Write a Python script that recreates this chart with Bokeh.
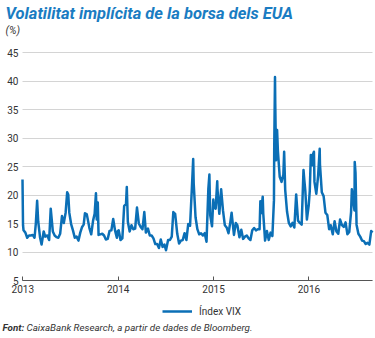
import pandas as pd
from bokeh.plotting import figure
from bokeh.models import (ColumnDataSource, Range1d, FixedTicker, DatetimeTickFormatter,
                          Legend, LegendItem, Label)
from bokeh.embed import file_html
from bokeh.resources import INLINE

# ---------------- data ----------------
dates = [
    "2012-12-31", "2013-01-02", "2013-01-04", "2013-01-11", "2013-01-18", "2013-01-25", "2013-02-01",
    "2013-02-08", "2013-02-15", "2013-02-20", "2013-02-25", "2013-03-01", "2013-03-08", "2013-03-14",
    "2013-03-22", "2013-03-28", "2013-04-05", "2013-04-12", "2013-04-18", "2013-04-26", "2013-05-03",
    "2013-05-10", "2013-05-17", "2013-05-24", "2013-05-31", "2013-06-07", "2013-06-14", "2013-06-20",
    "2013-06-24", "2013-06-28", "2013-07-05", "2013-07-12", "2013-07-19", "2013-07-26", "2013-08-02",
    "2013-08-09", "2013-08-16", "2013-08-22", "2013-08-27", "2013-09-03", "2013-09-06", "2013-09-13",
    "2013-09-20", "2013-09-27", "2013-10-03", "2013-10-08", "2013-10-11", "2013-10-15", "2013-10-18",
    "2013-10-25", "2013-11-01", "2013-11-08", "2013-11-15", "2013-11-22", "2013-11-29", "2013-12-06",
    "2013-12-13", "2013-12-20", "2013-12-27", "2013-12-31",
    "2014-01-03", "2014-01-10", "2014-01-17", "2014-01-24", "2014-01-31", "2014-02-03", "2014-02-07",
    "2014-02-14", "2014-02-21", "2014-02-28", "2014-03-07", "2014-03-14", "2014-03-21", "2014-03-28",
    "2014-04-04", "2014-04-11", "2014-04-17", "2014-04-25", "2014-05-02", "2014-05-09", "2014-05-16",
    "2014-05-23", "2014-05-30", "2014-06-06", "2014-06-13", "2014-06-20", "2014-06-27", "2014-07-03",
    "2014-07-11", "2014-07-18", "2014-07-25", "2014-07-31", "2014-08-07", "2014-08-15", "2014-08-22",
    "2014-08-29", "2014-09-05", "2014-09-12", "2014-09-19", "2014-09-26", "2014-10-03", "2014-10-10",
    "2014-10-15", "2014-10-17", "2014-10-24", "2014-10-31", "2014-11-07", "2014-11-14", "2014-11-21",
    "2014-11-28", "2014-12-05", "2014-12-12", "2014-12-16", "2014-12-19", "2014-12-26", "2014-12-31",
    "2015-01-02", "2015-01-09", "2015-01-15", "2015-01-16", "2015-01-23", "2015-01-30", "2015-02-06",
    "2015-02-13", "2015-02-20", "2015-02-27", "2015-03-06", "2015-03-11", "2015-03-13", "2015-03-20",
    "2015-03-27", "2015-04-02", "2015-04-10", "2015-04-17", "2015-04-24", "2015-05-01", "2015-05-08",
    "2015-05-15", "2015-05-22", "2015-05-29", "2015-06-05", "2015-06-12", "2015-06-19", "2015-06-26",
    "2015-06-29", "2015-07-02", "2015-07-08", "2015-07-10", "2015-07-17", "2015-07-24", "2015-07-31",
    "2015-08-07", "2015-08-14", "2015-08-20", "2015-08-21", "2015-08-24", "2015-08-25", "2015-08-28",
    "2015-09-01", "2015-09-04", "2015-09-11", "2015-09-18", "2015-09-25", "2015-09-28", "2015-10-02",
    "2015-10-09", "2015-10-16", "2015-10-23", "2015-10-30", "2015-11-06", "2015-11-13", "2015-11-20",
    "2015-11-27", "2015-12-04", "2015-12-11", "2015-12-14", "2015-12-18", "2015-12-24", "2015-12-31",
    "2016-01-04", "2016-01-08", "2016-01-13", "2016-01-15", "2016-01-20", "2016-01-22", "2016-01-29",
    "2016-02-05", "2016-02-11", "2016-02-12", "2016-02-19", "2016-02-26", "2016-03-04", "2016-03-11",
    "2016-03-18", "2016-03-24", "2016-04-01", "2016-04-08", "2016-04-15", "2016-04-22", "2016-04-29",
    "2016-05-06", "2016-05-13", "2016-05-20", "2016-05-27", "2016-06-03", "2016-06-10", "2016-06-13",
    "2016-06-17", "2016-06-23", "2016-06-24", "2016-06-27", "2016-07-01", "2016-07-08", "2016-07-15",
    "2016-07-22", "2016-07-29", "2016-08-05", "2016-08-12", "2016-08-19", "2016-08-26", "2016-08-31",
]
vix = [
    22.7, 14.7, 13.8, 13.4, 12.5, 12.9, 12.9,
    13.0, 12.5, 15.0, 19.0, 15.4, 12.6, 11.3,
    13.6, 12.7, 12.9, 12.1, 17.6, 13.6, 12.9,
    12.6, 12.5, 13.2, 16.3, 15.1, 16.9, 20.5,
    20.1, 16.9, 14.9, 13.8, 12.5, 12.7, 12.0,
    13.4, 14.4, 14.8, 16.8, 16.6, 15.9, 14.2,
    13.1, 15.5, 16.7, 20.3, 15.7, 18.7, 13.0,
    13.1, 13.2, 12.9, 12.2, 12.3, 13.7, 13.8,
    15.8, 13.8, 12.5, 13.7,
    13.8, 12.1, 12.4, 18.1, 18.4, 21.4, 15.3,
    13.6, 14.7, 14.0, 14.1, 17.8, 15.0, 14.4,
    14.0, 17.0, 13.4, 14.1, 12.9, 12.9, 12.4,
    11.4, 11.4, 10.7, 12.2, 10.9, 11.3, 10.3,
    12.1, 12.1, 12.7, 17.0, 16.7, 13.2, 11.5,
    12.0, 12.1, 13.3, 12.1, 14.9, 14.6, 21.2,
    26.3, 22.0, 16.1, 14.0, 13.1, 13.3, 12.9,
    13.3, 11.8, 21.1, 23.6, 16.5, 14.5, 19.2,
    17.8, 17.6, 22.4, 21.0, 16.7, 21.0, 17.3,
    14.7, 14.3, 13.3, 15.2, 16.9, 16.0, 13.0,
    15.1, 14.7, 12.6, 13.9, 12.3, 12.7, 12.9,
    12.4, 12.1, 13.8, 14.2, 13.8, 14.0, 14.0,
    18.9, 16.8, 19.7, 16.8, 12.0, 13.7, 12.1,
    13.4, 12.8, 19.1, 28.0, 40.7, 36.0, 26.1,
    31.4, 27.8, 23.2, 22.3, 23.6, 27.6, 20.9,
    17.1, 15.1, 14.5, 15.1, 14.3, 20.1, 15.5,
    15.1, 14.8, 24.4, 22.7, 20.7, 15.7, 18.2,
    20.7, 27.0, 25.2, 27.0, 27.6, 22.3, 20.2,
    23.4, 28.1, 25.4, 20.5, 19.8, 16.9, 16.5,
    14.0, 14.7, 13.1, 15.4, 13.6, 13.2, 15.7,
    14.7, 14.4, 15.2, 13.1, 13.5, 17.0, 21.0,
    19.4, 17.3, 25.8, 23.9, 14.8, 13.2, 12.7,
    12.0, 11.9, 11.4, 11.6, 11.3, 13.7, 13.4,
]
series_label = "Índex VIX"
year_ticks = ["2013-01-01", "2014-01-01", "2015-01-01", "2016-01-01"]
y_ticks = [5, 10, 15, 20, 25, 30, 35, 40, 45]
x_start, x_end = "2012-12-31", "2016-08-31"

title_text = "Volatilitat implícita de la borsa dels EUA"
unit_text = "(%)"
source_bold = "Font:"
source_text = "CaixaBank Research, a partir de dades de Bloomberg."

# ---------------- layout & styles ----------------
W, H = 375, 338
PLOT_L, PLOT_R = 22, 372      # pixel columns of x_start / x_end
TOP_PY = 52                   # pixel row of y = 45
AXIS_PY = 280                 # pixel row of the x axis (y = 5)
BLUE_LINE = "#0b6fb6"
BLUE_TITLE = "#1a7cc2"
TEXT = "#333333"
FONT = "Roboto"

# the frame spans the whole canvas; the axes are pinned at (x_start, 5)
xs_ms = pd.Timestamp(x_start).value / 1e6
xe_ms = pd.Timestamp(x_end).value / 1e6
ms_per_px = (xe_ms - xs_ms) / (PLOT_R - PLOT_L)
x_lo = xs_ms - PLOT_L * ms_per_px
x_hi = xe_ms + (W - PLOT_R) * ms_per_px
y_lo, y_hi = y_ticks[0], y_ticks[-1]
per_px = (y_hi - y_lo) / (AXIS_PY - TOP_PY)
y_bottom = y_lo - (H - AXIS_PY) * per_px
y_top = y_hi + TOP_PY * per_px


def sy(py):
    """screen y (from the frame bottom) for a pixel row counted from the top"""
    return H - py


src = ColumnDataSource(dict(date=pd.to_datetime(dates), vix=vix))
p = figure(width=W, height=H, x_axis_type="datetime", output_backend="svg",
           toolbar_location=None, title=None,
           x_range=Range1d(x_lo, x_hi), y_range=Range1d(y_bottom, y_top),
           min_border=0, min_border_left=0, min_border_right=0,
           min_border_top=0, min_border_bottom=0)
p.outline_line_color = None
p.background_fill_color = "white"
p.border_fill_color = "white"

line = p.line("date", "vix", source=src, line_color=BLUE_LINE, line_width=2.5,
              line_join="round")

xa = p.xaxis[0]
xa.fixed_location = y_lo
xa.ticker = FixedTicker(ticks=[pd.Timestamp(t).value / 1e6 for t in year_ticks])
xa.formatter = DatetimeTickFormatter(years="%Y", months="%Y", days="%Y", hours="%Y",
                                     minutes="%Y", seconds="%Y", milliseconds="%Y",
                                     microseconds="%Y", minsec="%Y", hourmin="%Y")
xa.bounds = (xs_ms, xe_ms)
xa.axis_line_color = "#555555"
xa.axis_line_width = 1
xa.major_tick_in = 4
xa.major_tick_out = 0
xa.major_tick_line_color = "#555555"
xa.minor_tick_line_color = None
xa.major_label_text_font = FONT
xa.major_label_text_font_size = "10px"
xa.major_label_text_color = TEXT
xa.major_label_standoff = 4

ya = p.yaxis[0]
ya.fixed_location = xs_ms
ya.ticker = FixedTicker(ticks=y_ticks)
ya.axis_line_color = None
ya.major_tick_line_color = None
ya.major_tick_in = 0
ya.major_tick_out = 0
ya.minor_tick_line_color = None
ya.minor_tick_in = 0
ya.minor_tick_out = 0
ya.major_label_text_font = FONT
ya.major_label_text_font_size = "10px"
ya.major_label_text_color = TEXT
ya.major_label_standoff = 4

p.xgrid.grid_line_color = None
yg = p.ygrid[0]
yg.grid_line_color = "#d4d4d4"
yg.grid_line_width = 1
if "cross_bounds" in yg.properties():
    yg.cross_bounds = (xs_ms, xe_ms)

# legend under the axis
legend = Legend(items=[LegendItem(label=series_label, renderers=[line])],
                location=(162, sy(318)), orientation="horizontal",
                border_line_color=None, background_fill_alpha=0,
                padding=0, margin=0, glyph_width=30, glyph_height=14, label_height=14,
                label_text_font=FONT, label_text_font_size="10px",
                label_text_color=TEXT, label_standoff=7)
p.add_layout(legend, "center")


def note(x, py, text, size, style, color):
    p.add_layout(Label(x=x, y=sy(py), x_units="screen", y_units="screen", text=text,
                       text_font=FONT, text_font_size=size, text_font_style=style,
                       text_color=color, text_baseline="middle"))


note(5, 13, title_text, "16.5px", "bold italic", BLUE_TITLE)
note(5, 30, unit_text, "10.5px", "italic", TEXT)
note(2, 327, source_bold, "9.8px", "bold italic", TEXT)
note(26, 327, source_text, "9.8px", "italic", TEXT)

open("out.html", "w").write(file_html(p, INLINE))
